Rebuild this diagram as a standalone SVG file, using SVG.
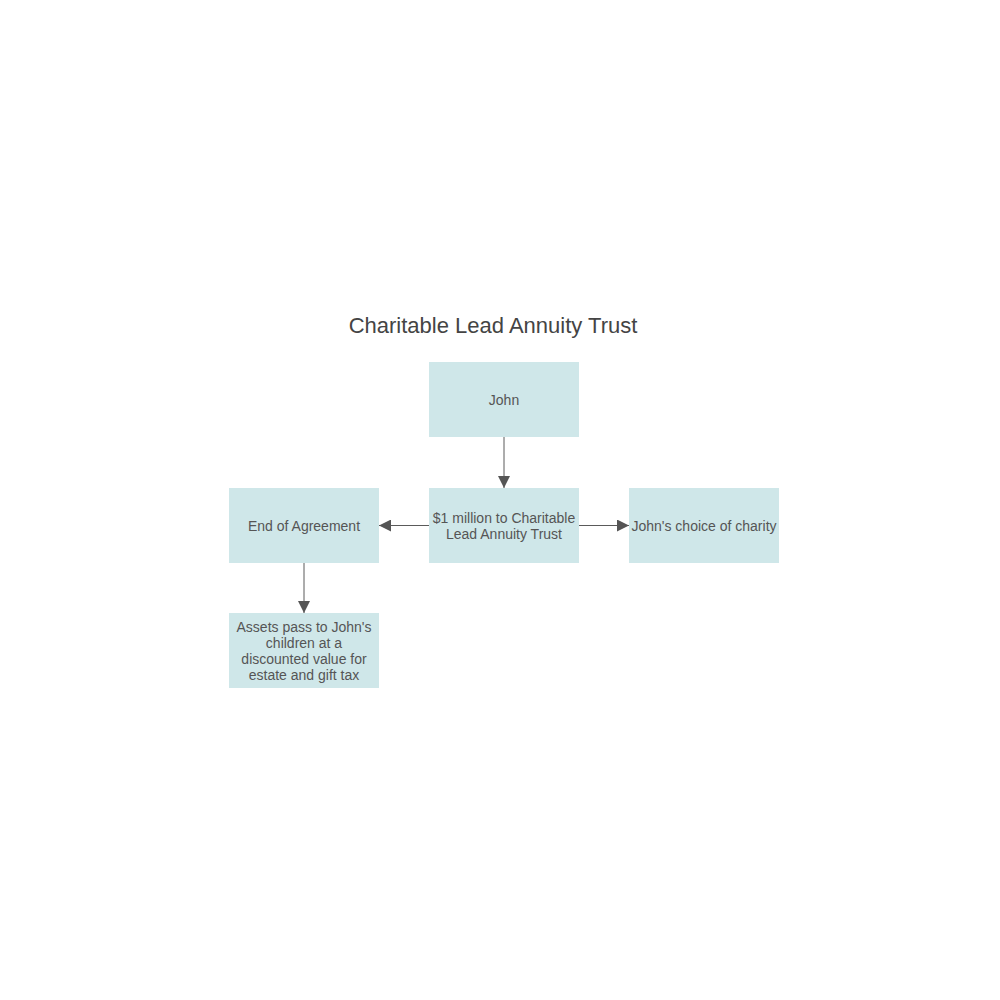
<svg xmlns="http://www.w3.org/2000/svg" width="1000" height="1000" viewBox="0 0 1000 1000">
<style>
.box{fill:#cfe7e9;stroke:none}
.t{font-family:"Liberation Sans",Arial,sans-serif;font-size:14px;fill:#555;text-anchor:middle}
.title{font-family:"Liberation Sans",Arial,sans-serif;font-size:22px;fill:#444;text-anchor:middle}
.c{stroke:#5a5a5a;stroke-width:1;fill:none;marker-end:url(#ah)}
</style>
<defs>
<marker id="ah" viewBox="0 0 12 12" refX="12" refY="6" markerWidth="12" markerHeight="12" markerUnits="userSpaceOnUse" orient="auto">
<path d="M0,0 L12,6 L0,12 Z" fill="#555"/>
</marker>
</defs>
<rect width="1000" height="1000" fill="#fff"/>
<text class="title" x="493" y="333">Charitable Lead Annuity Trust</text>
<g id="connectors">
<line class="c" x1="504" y1="437" x2="504" y2="488"/>
<line class="c" x1="429" y1="525.5" x2="379" y2="525.5"/>
<line class="c" x1="579" y1="525.5" x2="629" y2="525.5"/>
<line class="c" x1="304" y1="563" x2="304" y2="613"/>
</g>
<g id="john">
<rect class="box" x="429" y="362" width="150" height="75"/>
<text class="t" x="504" y="405">John</text>
</g>
<g id="trust">
<rect class="box" x="429" y="488" width="150" height="75"/>
<text class="t" x="504" y="523">$1 million to Charitable</text>
<text class="t" x="504" y="539">Lead Annuity Trust</text>
</g>
<g id="end">
<rect class="box" x="229" y="488" width="150" height="75"/>
<text class="t" x="304" y="531">End of Agreement</text>
</g>
<g id="charity">
<rect class="box" x="629" y="488" width="150" height="75"/>
<text class="t" x="704" y="531">John's choice of charity</text>
</g>
<g id="assets">
<rect class="box" x="229" y="613" width="150" height="75"/>
<text class="t" x="304" y="632">Assets pass to John's</text>
<text class="t" x="304" y="648">children at a</text>
<text class="t" x="304" y="664">discounted value for</text>
<text class="t" x="304" y="680">estate and gift tax</text>
</g>
</svg>
